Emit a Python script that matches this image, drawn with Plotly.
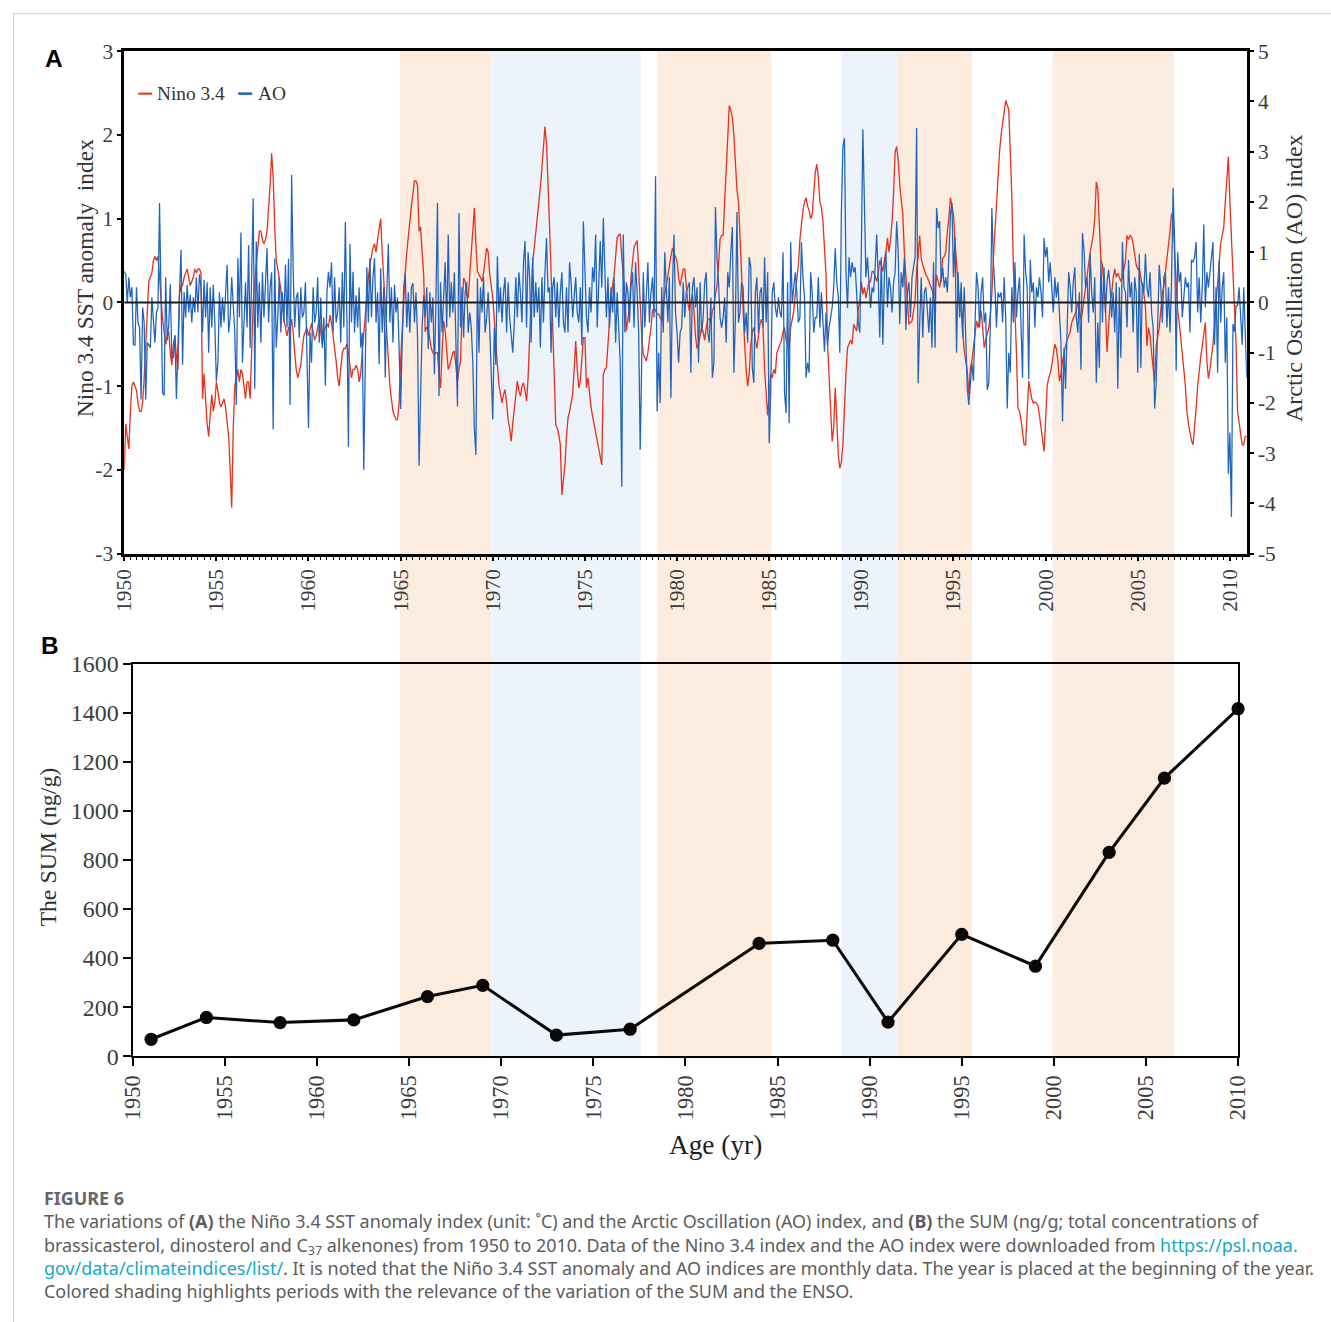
import plotly.graph_objects as go

# ---------------- DATA ----------------
# Monthly Nino 3.4 SST anomaly index, Jan 1950 - Dec 2010
nino34 = [
    -2.0, -1.45, -1.6, -1.75, -1.3, -1.0, -0.95, -1.0, -1.05, -1.2, -1.3, -1.3,
    -1.2, -0.9, -0.5, -0.1, 0.25, 0.3, 0.35, 0.5, 0.55, 0.5, 0.55, 0.3,
    0.0, -0.2, -0.35, -0.5, -0.4, -0.35, -0.6, -0.75, -0.5, -0.4, -0.65, -0.8,
    0.1, 0.2, 0.2, 0.3, 0.35, 0.4, 0.3, 0.2, 0.25, 0.3, 0.4, 0.35,
    0.4, 0.4, 0.35, -1.15, -0.85, -1.2, -1.45, -1.6, -1.35, -1.1, -1.3, -1.2,
    -0.95, -1.05, -1.2, -1.25, -1.2, -1.15, -1.25, -1.4, -1.6, -2.0, -2.45, -1.5,
    -1.0, -0.9, -0.8, -0.95, -0.8, -0.85, -1.0, -1.15, -0.95, -0.95, -1.15, -0.5,
    0.0, 0.25, 0.45, 0.65, 0.85, 0.85, 0.75, 0.7, 0.75, 0.85, 1.1, 1.4,
    1.78, 1.5, 0.9, 0.5, 0.4, 0.3, 0.15, 0.0, -0.2, -0.3, -0.4, -0.3,
    -0.3, -0.2, -0.35, -0.6, -0.8, -0.9, -0.8, -0.75, -0.55, -0.4, -0.35, -0.3,
    -0.4, -0.3, -0.25, -0.35, -0.45, -0.4, -0.3, -0.2, -0.35, -0.5, -0.35, -0.3,
    -0.25, -0.3, -0.15, -0.25, -0.4, -0.5, -0.7, -0.9, -1.0, -0.8, -0.6, -0.55,
    -0.55, -0.5, -0.6, -0.75, -0.9, -0.8, -0.8, -0.75, -0.8, -0.95, -0.85, -0.6,
    -0.35, -0.1, 0.15, 0.3, 0.45, 0.55, 0.65, 0.7, 0.6, 0.75, 0.85, 1.0,
    0.6, 0.25, -0.05, -0.4, -0.75, -1.0, -1.15, -1.3, -1.35, -1.4, -1.4, -1.2,
    -0.7, -0.3, 0.05, 0.35, 0.6, 0.8, 1.0, 1.15, 1.3, 1.45, 1.45, 1.4,
    0.85, 0.9, 0.6, 0.33, -0.35, -0.3, -0.32, -0.45, -0.55, -0.6, -0.62, -0.6,
    -0.6, -0.85, -1.02, -0.6, -0.22, -0.34, -0.55, -0.8, -0.75, -0.65, -0.6, -0.58,
    -0.75, -0.94, -0.8, -0.7, -0.1, 0.29, 0.25, 0.1, 0.05, 0.3, 0.53, 0.8,
    1.13, 0.7, 0.37, 0.33, 0.3, 0.25, 0.35, 0.5, 0.65, 0.6, 0.33, 0.2,
    0.05, -0.2, -0.55, -0.75, -0.98, -1.1, -1.2, -1.1, -1.04, -1.2, -1.4, -1.5,
    -1.66, -1.45, -1.3, -1.1, -0.94, -1.05, -1.12, -1.0, -0.96, -1.05, -1.18, -0.9,
    -0.46, -0.1, 0.5, 0.65, 0.82, 1.0, 1.14, 1.38, 1.6, 1.85, 2.1, 1.9,
    1.46, 0.9, 0.33, -0.4, -0.86, -1.46, -1.5, -1.58, -1.7, -2.3, -2.1, -1.94,
    -1.6, -1.38, -1.3, -1.22, -1.1, -0.8, -0.46, -0.8, -1.02, -0.94, -0.7, -0.42,
    -0.42, -1.02, -0.9, -1.1, -1.25, -1.36, -1.46, -1.55, -1.62, -1.74, -1.85, -1.94,
    -0.86, -0.8, -0.78, -0.5, -0.18, 0.05, 0.2, 0.33, 0.55, 0.78, 0.8, 0.82,
    0.54, 0.3, 0.1, -0.34, -0.2, -0.06, 0.3, 0.5, 0.66, 0.7, 0.74, 0.4,
    -0.06, -0.4, -0.62, -0.66, -0.7, -0.6, -0.46, -0.3, -0.1, -0.06, -0.1, -0.14,
    -0.14, -0.18, -0.22, -0.1, 0.1, 0.2, 0.33, 0.45, 0.55, 0.65, 0.6, 0.55,
    0.49, 0.3, 0.2, 0.3, 0.4, 0.4, 0.2, 0.0, -0.1, 0.0, 0.1, -0.1,
    -0.4, -0.55, -0.5, -0.4, -0.3, -0.35, -0.45, -0.3, -0.2, -0.2, -0.25, -0.1,
    -0.05, 0.1, 0.2, 0.45, 0.75, 0.8, 0.8, 1.2, 1.6, 2.0, 2.35, 2.3,
    2.2, 2.0, 1.6, 1.35, 1.2, 0.75, 0.3, -0.1, -0.5, -0.8, -1.0, -0.85,
    -0.5, -0.35, -0.3, -0.45, -0.55, -0.4, -0.25, -0.2, -0.3, -0.8, -1.1, -1.35,
    -1.1, -0.85, -0.9, -0.8, -0.85, -0.6, -0.55, -0.5, -0.45, -0.35, -0.3, -0.45,
    -0.5, -0.55, -0.3, -0.2, -0.1, 0.1, 0.25, 0.45, 0.75, 0.95, 1.1, 1.2,
    1.25, 1.15, 1.1, 1.0, 1.05, 1.3, 1.55, 1.65, 1.5, 1.2, 1.13, 0.97,
    0.6, 0.33, -0.5, -0.9, -1.3, -1.66, -1.5, -1.02, -1.4, -1.82, -1.98, -1.9,
    -1.7, -1.18, -0.85, -0.54, -0.5, -0.45, -0.5, -0.26, -0.3, -0.34, -0.07, 0.0,
    0.25, 0.1, 0.18, 0.05, 0.15, 0.25, 0.25, 0.37, 0.37, 0.3, 0.25, 0.35,
    0.5, 0.45, 0.37, 0.5, 0.6, 0.77, 0.6, 0.75, 0.97, 1.3, 1.8, 1.86,
    1.7, 1.41, 1.2, 1.05, 0.6, 0.33, -0.06, -0.26, -0.24, -0.22, -0.1, 0.02,
    0.4, 0.55, 0.8, 0.53, 0.45, 0.37, 0.33, 0.3, 0.25, 0.18, 0.15, 0.1,
    0.1, 0.33, 0.25, 0.18, 0.3, 0.53, 0.55, 0.6, 0.85, 1.0, 1.25, 1.15,
    1.05, 0.73, 0.45, 0.25, -0.06, -0.1, -0.35, -0.58, -0.7, -0.82, -1.1, -0.78,
    -0.7, -0.54, -0.45, -0.22, -0.3, -0.2, -0.1, -0.3, -0.54, -0.45, -0.38, -0.3,
    -0.14, 0.1, 0.53, 0.85, 1.13, 1.53, 1.8, 2.0, 2.15, 2.3, 2.41, 2.36,
    2.3, 1.8, 1.26, 0.41, 0.0, -0.6, -1.26, -1.3, -1.4, -1.55, -1.7, -1.7,
    -1.3, -0.94, -1.05, -1.15, -1.2, -1.19, -1.2, -1.23, -1.35, -1.5, -1.66, -1.78,
    -1.4, -1.0, -0.9, -0.85, -0.75, -0.6, -0.5, -0.55, -0.7, -0.94, -0.85, -0.7,
    -0.6, -0.52, -0.45, -0.4, -0.35, -0.24, -0.2, -0.15, -0.1, 0.0, -0.1, -0.2,
    -0.1, 0.05, 0.2, 0.35, 0.5, 0.6, 0.7, 0.8, 1.0, 1.44, 1.35, 1.0,
    0.5, 0.45, 0.2, -0.1, -0.59, -0.3, 0.0, 0.1, 0.3, 0.4, 0.3, 0.35,
    0.3, 0.25, 0.3, 0.4, 0.5, 0.8, 0.75, 0.8, 0.78, 0.7, 0.6, 0.45,
    0.4, 0.41, 0.3, 0.2, 0.1, -0.05, -0.52, -0.3, -0.4, -0.6, -0.8, -0.95,
    -0.52, -0.4, -0.3, -0.1, 0.1, 0.2, 0.35, 0.5, 0.7, 0.85, 1.06, 1.0,
    0.6, 0.2, -0.1, -0.24, -0.4, -0.6, -0.8, -1.0, -1.3, -1.45, -1.58, -1.65,
    -1.7, -1.5, -1.26, -1.0, -0.8, -0.65, -0.52, -0.4, -0.24, -0.7, -0.91, -0.8,
    -0.64, -0.5, -0.24, 0.0, 0.3, 0.5, 0.7, 0.8, 0.9, 1.2, 1.5, 1.74,
    1.2, 0.8, 0.3, 0.0, -0.5, -1.3, -1.45, -1.58, -1.7, -1.7, -1.6, -1.6,
]

# Monthly Arctic Oscillation index, Jan 1950 - Dec 2010
ao = [
    0.62, 0.55, 0.0, 0.5, 0.1, 0.3, -0.84, -0.85, 0.3, -0.4, -0.5, -1.93,
    -0.1, -0.4, -1.93, -0.8, -0.85, -0.9, 0.1, -0.4, -0.8, -0.2, -0.1, 1.98,
    0.4, -1.8, -1.85, 0.5, -0.75, -0.45, 0.36, -1.1, -1.1, -0.65, -1.92, -0.7,
    0.2, 1.05, -1.24, 0.2, -0.3, 0.35, -0.2, 0.15, -0.4, 0.1, -0.2, 0.5,
    -0.2, 0.56, 0.3, -0.6, 0.45, -0.3, 0.4, -1.0, 0.3, -0.5, 0.35, -0.4,
    -1.57, -1.2, 0.2, -0.5, 0.1, -0.4, 0.3, 0.75, -0.6, -0.3, 0.5, -0.2,
    -0.6, -2.04, 0.88, -0.3, 1.39, -1.2, -0.2, 0.4, -0.5, 1.14, -0.9, 0.3,
    2.07, -1.72, 1.21, -0.5, 0.4, -0.8, 0.6, -0.3, 0.5, 1.08, -0.4, 0.3,
    0.6, -2.53, 0.87, -0.9, -0.3, 0.5, -0.6, 0.2, -0.4, 0.75, -0.5, 0.87,
    -2.04, 2.54, 0.68, -0.5, 0.09, 0.2, -0.7, 0.3, -0.3, -0.2, 0.4, -0.8,
    -2.5, -0.6, -1.2, 0.3, -0.4, -0.2, 0.5, -0.8, 0.1, -0.9, -0.3, -1.66,
    0.2, 0.61, 0.3, 0.8, -0.6, 0.5, -0.4, -0.2, 0.3, -0.8, 0.6, -0.5,
    1.6, -0.3, -2.87, 1.17, -0.4, 0.61, -0.6, 0.14, -0.5, 0.3, -0.9, -0.6,
    -3.33, -1.2, 0.7, -0.4, 0.88, -0.3, 0.5, 0.88, -0.4, 0.2, -1.23, 0.68,
    -0.6, 0.3, -1.5, 0.2, 1.17, -0.4, 0.3, -0.8, 0.35, -0.2, 0.1, -0.9,
    -2.12, -0.8, 0.3, 0.58, -0.5, 0.2, -0.6, 0.3, 0.38, -0.4, 0.2, -0.7,
    -3.25, -1.86, -0.5, 0.14, -0.3, 0.3, -0.93, 0.2, -0.4, 0.1, -1.43, 0.1,
    1.98, -1.86, 0.4, -0.6, 0.2, 0.8, -0.5, 1.35, -0.3, 0.4, -0.2, 0.6,
    -0.8, -2.07, 1.78, -0.5, 0.3, -0.7, 0.2, 0.4, -0.6, -0.2, -0.5, -1.2,
    -2.5, -3.03, 0.48, -1.0, 0.3, -0.2, 0.5, -0.6, -0.3, 0.2, -0.5, -1.6,
    -2.33, -0.5, -1.24, 0.92, -0.2, 0.3, -0.4, 0.2, 0.5, -0.6, 0.4, -0.3,
    -0.6, -1.0, -0.4, 0.5, -0.3, 0.6, 0.2, -0.4, 0.8, 1.22, -0.5, 1.0,
    0.5, -0.8, 0.9, -0.3, 0.4, -0.2, 0.3, -0.9, 0.5, -0.4, 0.6, 1.28,
    0.2, 0.3, -1.0, 0.3, 0.5, -0.3, 0.4, -0.5, 0.2, 0.6, -0.4, -0.6,
    0.3, -0.6, 0.8, 0.4, -0.3, 0.2, 0.5, -0.2, -0.4, 0.3, -0.85, 1.61,
    0.5, -0.3, -0.6, 0.3, -0.2, 0.7, 0.4, 1.35, -0.5, 0.6, 1.22, 0.3,
    1.68, 0.6, -0.3, 0.5, -0.5, 0.3, -0.2, 0.5, -0.8, 0.2, -0.6, -1.2,
    -3.67, 1.35, -0.6, 0.4, 0.2, -0.4, 0.3, 0.6, -0.5, 0.8, 0.2, -0.6,
    -2.93, -1.4, 0.6, -0.5, 0.3, 0.8, -0.4, 0.2, 0.5, -0.3, 2.51, -2.17,
    -1.0, -2.0, 0.3, -0.6, 1.0, 0.2, -0.4, 0.5, -1.9, 0.3, 1.35, -0.2,
    -0.6, -1.2, -0.6, -0.5, 0.4, -0.3, 0.2, 0.3, 0.4, -1.4, 0.3, 0.5,
    -0.1, 0.3, -1.2, 0.4, -0.6, -0.3, 0.4, 0.6, -0.6, -0.8, 0.1, -1.5,
    -1.2, 1.9, 0.9, 0.4, -0.3, -0.5, -0.3, 0.1, -0.8, 0.6, 0.3, 1.0,
    1.5, -1.4, -0.3, 1.8, -0.4, -0.2, 0.4, 0.3, -0.6, -0.2, -0.8, 0.9,
    0.7, -1.3, -1.6, 0.2, 0.5, -0.6, 0.2, 0.3, -0.5, 0.9, -0.4, 0.6,
    -2.8, -1.8, 0.2, 0.4, -0.1, -0.3, 0.1, -0.2, -0.3, 1.0, -1.8, -2.2,
    0.4, -2.4, 1.2, 0.0, 0.3, 0.6, 0.2, -0.4, -0.3, 1.2, 0.5, 0.1,
    -1.5, -1.2, -1.4, 0.6, 0.2, -0.6, -0.3, -0.3, 0.5, -0.5, 0.2, -0.5,
    -0.98, -0.2, -0.86, -0.5, -0.3, -0.1, 0.3, 1.08, 0.4, 0.09, -1.0, 1.8,
    3.1, 3.27, 0.6, -0.11, 0.9, 0.5, 0.8, 0.6, 0.7, 0.2, -0.4, -0.6,
    1.0, 3.44, 1.9, 0.5, 0.9, 0.4, -0.11, 0.3, 0.2, 0.7, 1.35, 0.5,
    -0.7, 0.9, -0.84, 0.55, 1.02, -0.1, 0.5, 0.3, -0.2, 0.4, 0.6, 1.61,
    1.0, -0.43, 0.6, 0.3, 0.9, -0.55, 0.2, 0.4, -0.3, 0.5, 0.7, 0.9,
    3.47, -1.61, -0.43, 0.5, -0.7, 0.2, 0.3, -0.2, -0.6, 0.1, -0.9, 0.8,
    -0.9, 1.88, 1.48, 1.62, 0.4, 0.7, 0.3, 0.5, 0.2, 0.9, 1.74, 1.98,
    0.5, 1.3, -1.0, 0.6, -0.3, 0.4, -0.7, 0.3, -0.6, -1.71, -2.04, -1.63,
    -1.2, -1.56, -0.3, 0.6, 0.3, -0.5, 0.2, 0.5, -0.4, -0.2, -1.74, -1.6,
    -0.46, 1.88, 0.8, 0.3, -0.5, 0.2, 0.1, 0.2, -0.4, 0.5, -0.3, -2.11,
    -1.0, -1.4, 0.3, -0.4, 0.8, -0.3, 0.2, 0.5, -0.5, -1.5, 1.35, 0.6,
    0.3, -1.53, 0.85, 0.2, 0.4, -0.5, 0.3, 0.1, 0.5, 0.2, -0.3, 1.28,
    0.9, 1.1, 0.4, 0.8, 0.3, -0.2, 0.5, 0.1, 0.4, -0.3, -0.8, -2.37,
    -0.9, -1.72, -0.5, 0.6, 0.3, -0.2, 0.4, 0.7, -0.3, -0.6, 0.2, -1.34,
    1.38, 1.05, 0.3, 0.5, -0.4, 0.97, 0.2, -0.2, 0.5, -1.6, -0.4, -1.3,
    0.85, -0.4, 0.7, -0.2, 0.4, 0.65, 0.3, -0.3, 0.2, -0.6, 0.4, -1.72,
    0.3, -1.1, 1.2, 0.3, 0.2, -0.5, 0.85, 0.1, 0.4, -0.6, 0.5, 0.2,
    -1.4, 0.97, -1.3, 0.4, 0.2, 0.97, 0.3, 0.1, 0.6, -0.2, -0.5, -2.11,
    -1.6, -0.2, 0.75, 0.3, -0.4, 0.5, 0.6, -0.5, 0.3, -0.6, 0.4, 2.28,
    1.2, -1.36, 1.0, 0.4, 0.6, -0.3, 0.2, 0.5, 0.3, 0.4, -0.6, 0.85,
    0.8, 0.9, 1.2, -0.2, 0.5, -0.4, 0.3, 1.55, -0.1, 0.6, 0.3, 0.6,
    0.8, 1.2, -0.84, 0.3, -1.4, 0.85, -0.4, 0.3, 0.6, -1.2, -0.3, -3.41,
    -2.59, -4.27, -0.43, -0.58, -0.07, -0.06, 0.3, -0.4, -0.84, 0.3, -0.5, -1.5,
]

start_year = 1950

# Panel B: the SUM (ng/g)
sum_years = [1951, 1954, 1958, 1962, 1966, 1969, 1973, 1977, 1984, 1988, 1991, 1995, 1999, 2003, 2006, 2010]
sum_values = [69, 158, 137, 148, 243, 289, 86, 110, 460, 473, 139, 497, 367, 831, 1134, 1417]

# Shaded periods (years on the panel-B time axis)
orange_periods = [(1964.5, 1969.46), (1978.47, 1984.66), (1991.47, 1995.56), (1999.93, 2006.52)]
blue_periods = [(1969.46, 1977.57), (1988.46, 1991.47)]

# Tick labels
year_ticks = list(range(1950, 2011, 5))
nino_ticks = [-3, -2, -1, 0, 1, 2, 3]
nino_ticktext = ["-3", "-2", "-1", "0", "1", "2", "3"]
ao_ticks = [-5, -4, -3, -2, -1, 0, 1, 2, 3, 4, 5]
ao_ticktext = ["-5", "-4", "-3", "-2", "-1", "0", "1", "2", "3", "4", "5"]
sum_ticks = [0, 200, 400, 600, 800, 1000, 1200, 1400, 1600]

# ---------------- FIGURE ----------------
# Layout positions below are given in screen pixels of the 1331 x 1322 picture.
# The page shows the figure with a small offset and scale, compensated here.
S = 0.9815   # screen px per figure px
M = 12       # figure offset in the page (px)
W = round(1331 / S - M)
H = round(1322 / S - M)


def px(x):
    return (x / S - M) / W


def py(y):
    return 1 - (y / S - M) / H


def sz(v):
    return v / S


SERIF = "Liberation Serif"
TICKCOL = "#3c3c3c"

nino_t = [start_year + i / 12 for i in range(len(nino34))]
ao_t = [start_year + i / 12 for i in range(len(ao))]

fig = go.Figure()
fig.add_trace(go.Scatter(x=nino_t, y=nino34, mode="lines", name="Nino 3.4",
                         line=dict(color="#e8321e", width=sz(1.3)), xaxis="x", yaxis="y",
                         showlegend=False))
fig.add_trace(go.Scatter(x=ao_t, y=ao, mode="lines", name="AO",
                         line=dict(color="#2064be", width=sz(1.25)), xaxis="x", yaxis="y2",
                         showlegend=False))
fig.add_trace(go.Scatter(x=sum_years, y=sum_values, mode="lines+markers", name="SUM",
                         line=dict(color="#0a0a0a", width=sz(3)),
                         marker=dict(color="#0d0808", size=sz(13)),
                         xaxis="x2", yaxis="y3", cliponaxis=False, showlegend=False))

fontA = dict(family=SERIF, size=sz(21), color=TICKCOL)
fontBx = dict(family=SERIF, size=sz(22), color=TICKCOL)
fontBy = dict(family=SERIF, size=sz(23.5), color=TICKCOL)

fig.update_layout(
    width=W, height=H,
    margin=dict(l=0, r=0, t=0, b=0),
    paper_bgcolor="white",
    plot_bgcolor="rgba(0,0,0,0)",
    xaxis=dict(domain=[px(123), px(1245.7)], range=[1950, 2010.917], anchor="y",
               tickmode="array", tickvals=year_ticks, tickangle=-90,
               ticks="outside", ticklen=sz(4), tickwidth=sz(1.5), tickcolor="black",
               minor=dict(dtick=1/3, ticks="outside", ticklen=sz(3), tickwidth=sz(1.2), tickcolor="black"),
               showline=True, linewidth=sz(2.5), linecolor="black", mirror=True,
               showgrid=False, zeroline=False, tickfont=fontA),
    yaxis=dict(domain=[py(553), py(50)], range=[-3, 3], anchor="x",
               tickmode="array", tickvals=nino_ticks, ticktext=nino_ticktext,
               ticks="outside", ticklen=sz(4), tickwidth=sz(1.5), tickcolor="black",
               showline=True, linewidth=sz(2.5), linecolor="black",
               showgrid=False, zeroline=False, tickfont=fontA),
    yaxis2=dict(domain=[py(553), py(50)], range=[-5, 5], anchor="x", overlaying="y",
                side="right", tickmode="array", tickvals=ao_ticks, ticktext=ao_ticktext,
                ticks="outside", ticklen=sz(4), tickwidth=sz(1.5), tickcolor="black",
                showline=True, linewidth=sz(2.5), linecolor="black",
                showgrid=False, zeroline=False, tickfont=fontA),
    xaxis2=dict(domain=[px(131.5), px(1237)], range=[1950, 2010], anchor="y3",
                tickmode="array", tickvals=year_ticks, tickangle=-90,
                ticks="outside", ticklen=sz(8), tickwidth=sz(2), tickcolor="black",
                showline=True, linewidth=sz(2.2), linecolor="black", mirror=True,
                showgrid=False, zeroline=False, tickfont=fontBx),
    yaxis3=dict(domain=[py(1056), py(663.3)], range=[0, 1600], anchor="x2",
                tickmode="array", tickvals=sum_ticks,
                ticks="outside", ticklen=sz(7), tickwidth=sz(2), tickcolor="black",
                showline=True, linewidth=sz(2.2), linecolor="black", mirror=True,
                showgrid=False, zeroline=False, tickfont=fontBy),
)

shapes = []
for (a, b) in orange_periods:
    shapes.append(dict(type="rect", xref="x2", yref="paper", x0=a, x1=b,
                       y0=py(1058), y1=py(50), fillcolor="#fcebdf",
                       line=dict(width=0), layer="below"))
for (a, b) in blue_periods:
    shapes.append(dict(type="rect", xref="x2", yref="paper", x0=a, x1=b,
                       y0=py(1058), y1=py(50), fillcolor="#edf3fa",
                       line=dict(width=0), layer="below"))
# zero line of panel A
shapes.append(dict(type="line", xref="x", yref="y", x0=1950, x1=2010.917, y0=0, y1=0,
                   line=dict(color="#1a1a1a", width=sz(2)), layer="above"))
# legend keys
shapes.append(dict(type="line", xref="paper", yref="paper", x0=px(137), x1=px(151),
                   y0=py(92.5), y1=py(92.5), line=dict(color="#e8321e", width=sz(2))))
shapes.append(dict(type="line", xref="paper", yref="paper", x0=px(237), x1=px(251),
                   y0=py(92.5), y1=py(92.5), line=dict(color="#2064be", width=sz(2.5))))
# page frame lines (kept just inside the figure's edge)
shapes.append(dict(type="line", xref="paper", yref="paper", x0=0.0, x1=1,
                   y0=1 - 0.6 / H, y1=1 - 0.6 / H, line=dict(color="#d9d9d9", width=1.2)))
shapes.append(dict(type="line", xref="paper", yref="paper", x0=0.6 / W, x1=0.6 / W,
                   y0=1 - 0.6 / H, y1=0, line=dict(color="#d9d9d9", width=1.2)))

fig.update_layout(shapes=shapes)

ann = []


def add(text, x, y, size, color="#333333", family=SERIF, angle=0, xanchor="center",
        yanchor="middle", align="center"):
    ann.append(dict(text=text, x=px(x), y=py(y), xref="paper", yref="paper", showarrow=False,
                    font=dict(family=family, size=sz(size), color=color), textangle=angle,
                    xanchor=xanchor, yanchor=yanchor, align=align))


add("<b>A</b>", 53, 57, 24, color="#000000", family="Liberation Sans")
add("<b>B</b>", 49, 645, 24, color="#000000", family="Liberation Sans")
add("Nino 3.4 SST anomaly  index", 84, 277, 23, angle=-90)
add("Arctic Oscillation (AO) index", 1293, 277, 23.6, angle=-90)
add("The SUM (ng/g)", 47, 847, 23.4, angle=-90)
add("Age (yr)", 714, 1145, 26.8, color="#1e1e1e")
add("Nino 3.4", 154, 92, 19, xanchor="left")
add("AO", 255, 92, 19, xanchor="left")

CAP = "Noto Sans"
CAPCOL = "#5c5c5c"
LINK = "#16a7c6"
caption_lines = [
    "<span style='color:#666666'><b>FIGURE 6</b></span>",
    "The variations of <b>(A)</b> the Niño 3.4 SST anomaly index (unit: ˚C) and the Arctic Oscillation (AO) index, and <b>(B)</b> the SUM (ng/g; total concentrations of",
    "brassicasterol, dinosterol and C<sub>37</sub> alkenones) from 1950 to 2010. Data of the Nino 3.4 index and the AO index were downloaded from "
    "<span style='color:" + LINK + "'>https://psl.noaa.</span>",
    "<span style='color:" + LINK + "'>gov/data/climateindices/list/</span>. It is noted that the Niño 3.4 SST anomaly and AO indices are monthly data. The year is placed at the beginning of the year.",
    "Colored shading highlights periods with the relevance of the variation of the SUM and the ENSO.",
]
add("<br>".join(caption_lines), 41, 1245, 17.6, color=CAPCOL, family=CAP,
    xanchor="left", align="left")

fig.update_layout(annotations=ann)

fig.write_html("out.html")
